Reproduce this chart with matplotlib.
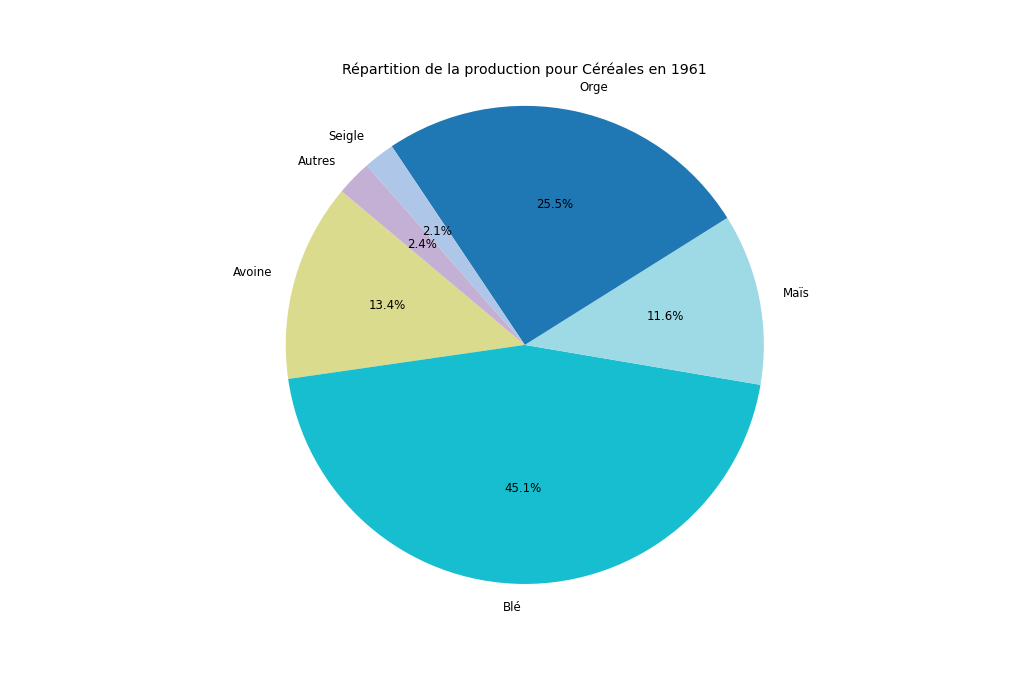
import matplotlib.pyplot as plt

# Parts de production (%)
cereales = ['Avoine', 'Blé', 'Maïs', 'Orge', 'Seigle', 'Autres']
parts = [13.4, 45.1, 11.6, 25.5, 2.1, 2.4]
couleurs = ['#dbdb8d', '#17becf', '#9edae5', '#1f77b4', '#aec7e8', '#c5b0d5']

plt.rcParams['font.size'] = 8.5

fig, ax = plt.subplots(figsize=(10.24, 6.83), dpi=100)
ax.pie(parts, labels=cereales, colors=couleurs, autopct='%1.1f%%',
       startangle=140)
ax.set_aspect('equal')
ax.set_xlim(-1.1, 1.1)
ax.set_ylim(-1.1, 1.1)
ax.set_title('Répartition de la production pour Céréales en 1961', fontsize=10.2)

plt.savefig('out.png', dpi=100)
